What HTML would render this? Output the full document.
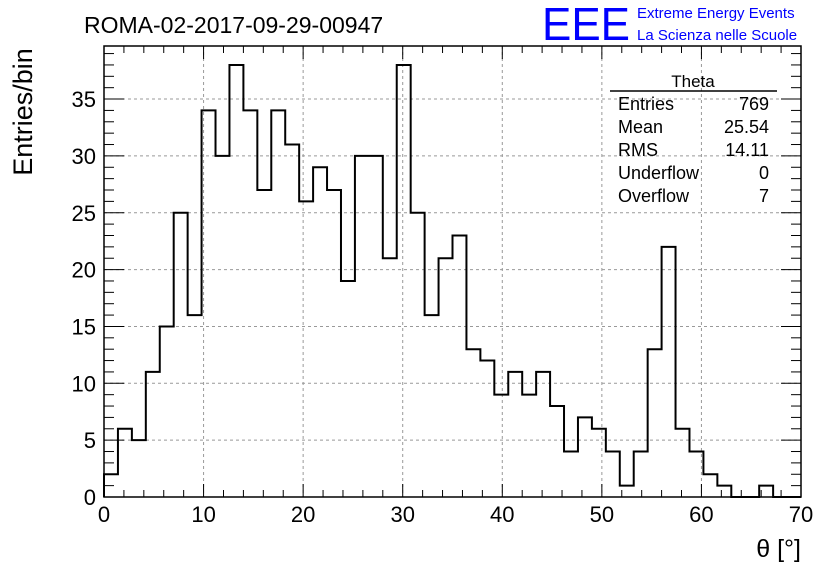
<!DOCTYPE html>
<html><head><meta charset="utf-8"><style>
body{margin:0;background:#fff;}
svg{display:block;font-family:"Liberation Sans",sans-serif;}
</style></head><body>
<svg id="c" width="836" height="572" viewBox="0 0 836 572">
<text x="84" y="33" font-size="23">ROMA-02-2017-09-29-00947</text>
<text x="542" y="40" font-size="46" fill="#0000ff" textLength="88" lengthAdjust="spacingAndGlyphs">EEE</text>
<text x="637" y="18" font-size="15" fill="#0000ff">Extreme Energy Events</text>
<text x="637" y="40" font-size="15" fill="#0000ff">La Scienza nelle Scuole</text>
<g id="grid"></g><g id="ticks"></g><path id="hist" fill="none" stroke="#000" stroke-width="2"/>
<rect x="104" y="46" width="697" height="451" fill="none" stroke="#000" stroke-width="1.5"/>
<text transform="translate(32,112) rotate(-90)" text-anchor="middle" font-size="27">Entries/bin</text>
<text x="801" y="557" text-anchor="end" font-size="25">θ [°]</text>
<g font-size="18">
<text x="693" y="87" text-anchor="middle" font-size="17">Theta</text>
<line x1="610" y1="91" x2="777" y2="91" stroke="#000" stroke-width="1.5"/>
<text x="618" y="110">Entries</text><text x="769" y="110" text-anchor="end">769</text>
<text x="618" y="133">Mean</text><text x="769" y="133" text-anchor="end">25.54</text>
<text x="618" y="156">RMS</text><text x="769" y="156" text-anchor="end">14.11</text>
<text x="618" y="179">Underflow</text><text x="769" y="179" text-anchor="end">0</text>
<text x="618" y="202">Overflow</text><text x="769" y="202" text-anchor="end">7</text>
</g>
</svg>
<script>
const counts=[2,6,5,11,15,25,16,34,30,38,34,27,34,31,26,29,27,19,30,30,21,38,25,16,21,23,13,12,9,11,9,11,8,4,7,6,4,1,4,13,22,6,4,2,1,0,0,1,0,0];
const xTicks=[0,10,20,30,40,50,60,70];
const yTicks=[0,5,10,15,20,25,30,35];
const xMin=0,xMax=70,binW=1.4;
const X=v=>104+(v-xMin)/(xMax-xMin)*697;
const Y=v=>497-v*11.37;
const ns="http://www.w3.org/2000/svg";
const svg=document.getElementById('c');
function mk(t,a,p){const e=document.createElementNS(ns,t);for(const k in a)e.setAttribute(k,a[k]);p.appendChild(e);return e;}
const grid=document.getElementById('grid'),tk=document.getElementById('ticks');
xTicks.forEach(v=>{
 if(v>xMin&&v<xMax){const g=mk('line',{x1:X(v),x2:X(v),y1:46,y2:497,stroke:'#999','stroke-dasharray':'3,3'},grid);
 
 }
 const t=mk('text',{x:X(v),y:522,'text-anchor':'middle','font-size':22},svg);t.textContent=v;
 
 
});
for(let v=xMin;v<=xMax;v+=2){const L=(v%10===0)?13:7;
 mk('line',{x1:X(v),x2:X(v),y1:497,y2:497-L,stroke:'#000'},tk);
 mk('line',{x1:X(v),x2:X(v),y1:46,y2:46+L,stroke:'#000'},tk);}
yTicks.forEach(v=>{
 if(v>0){const g=mk('line',{x1:104,x2:801,y1:Y(v),y2:Y(v),stroke:'#999','stroke-dasharray':'3,3'},grid);
 
 }
 const t=mk('text',{x:96,y:Y(v)+8,'text-anchor':'end','font-size':22},svg);t.textContent=v;
 
 
});
for(let v=0;v<=39;v++){if(Y(v)<46)break;const L=(v%5===0)?20:10;
 mk('line',{x1:104,x2:104+L,y1:Y(v),y2:Y(v),stroke:'#000'},tk);
 mk('line',{x1:801,x2:801-L,y1:Y(v),y2:Y(v),stroke:'#000'},tk);}
let d='M'+X(0)+','+Y(0);
counts.forEach((c,i)=>{d+=' L'+X(i*binW)+','+Y(c)+' L'+X((i+1)*binW)+','+Y(c);});
d+=' L'+X(counts.length*binW)+','+Y(0);
document.getElementById('hist').setAttribute('d',d);
</script>
</body></html>
